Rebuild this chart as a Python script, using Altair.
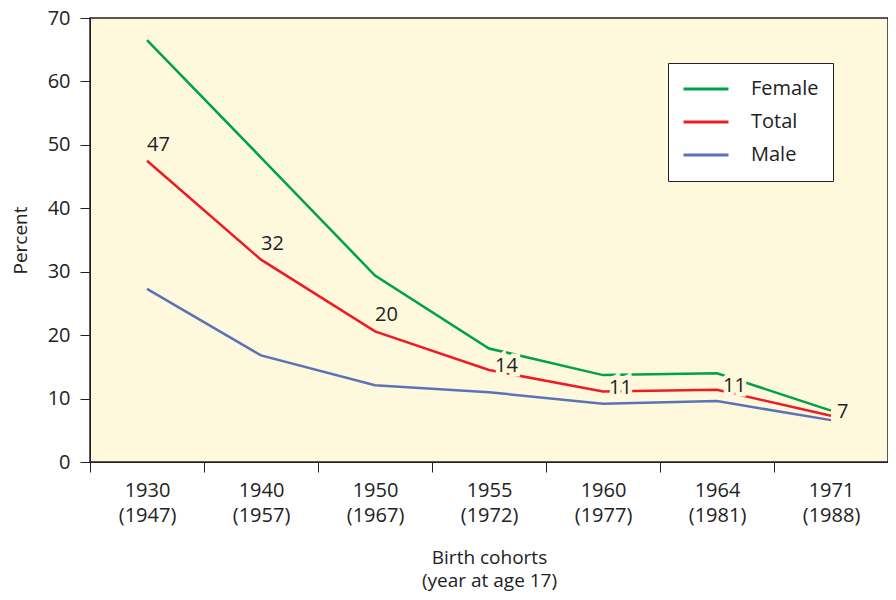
import altair as alt
import pandas as pd

cohort = ["1930", "1940", "1950", "1955", "1960", "1964", "1971"]
age17 = ["1947", "1957", "1967", "1972", "1977", "1981", "1988"]
female = [66.5, 48.0, 29.4, 17.9, 13.7, 14.0, 8.1]
total = [47.5, 31.9, 20.6, 14.5, 11.1, 11.4, 7.3]
male = [27.3, 16.8, 12.1, 11.0, 9.2, 9.6, 6.6]
total_labels = ["47", "32", "20", "14", "11", "11", "7"]
series = ["Female", "Total", "Male"]
colors = ["#00a14b", "#ed1c24", "#5a73b8"]

FONT = "Open Sans"
FS = 20
BG = "#fef9dc"

cats = [f"{c}|({a})" for c, a in zip(cohort, age17)]
rows = []
for name, vals in zip(series, [female, total, male]):
    for c, v in zip(cats, vals):
        rows.append({"cohort": c, "series": name, "value": v})
df = pd.DataFrame(rows)

lab = pd.DataFrame({"cohort": cats, "value": total, "label": total_labels,
                    "grp": ["a", "a", "a", "b", "b", "b", "b"]})

x = alt.X("cohort:N", sort=cats, scale=alt.Scale(paddingInner=0, paddingOuter=0),
          axis=alt.Axis(labelExpr="split(datum.label, '|')", labelAngle=0,
                        tickBand="extent", tickSize=10, tickColor="#222",
                        domainColor="#222", labelFont=FONT, labelFontSize=FS,
                        labelColor="#222", labelPadding=8, labelLineHeight=25,
                        title=["Birth cohorts", "(year at age 17)"],
                        titleFont=FONT, titleFontSize=FS - 1, titleFontWeight="normal",
                        titleColor="#222", titlePadding=23, titleLineHeight=23))
y = alt.Y("value:Q", scale=alt.Scale(domain=[0, 70], nice=False),
          axis=alt.Axis(values=list(range(0, 71, 10)), grid=False, tickSize=10,
                        tickColor="#222", domainColor="#222", labelFont=FONT,
                        labelFontSize=FS, labelColor="#222", labelPadding=10,
                        title="Percent", titleFont=FONT, titleFontSize=FS - 1,
                        titleFontWeight="normal", titleColor="#222", titlePadding=17))

lines = alt.Chart(df).mark_line(strokeWidth=2.5).encode(
    x=x, y=y,
    color=alt.Color("series:N", sort=series,
                    scale=alt.Scale(domain=series, range=colors),
                    legend=alt.Legend(title=None, orient="none", legendX=578, legendY=45,
                                      symbolType="stroke", symbolSize=2025,
                                      symbolStrokeWidth=3, labelFont=FONT,
                                      labelFontSize=FS, labelColor="#222",
                                      labelOffset=21, rowPadding=9, clipHeight=24,
                                      fillColor="white", strokeColor="#222",
                                      padding=14, offset=0)),
    order=alt.Order("cohort:N"),
)

def text_layer(grp, dx, dy, knock):
    kw = dict(align="left", baseline="middle", dx=dx, dy=dy, font=FONT,
              fontSize=FS)
    if knock:
        kw.update(stroke=BG, strokeWidth=9, fill=BG)
    else:
        kw.update(color="#222")
    return alt.Chart(lab).transform_filter(alt.datum.grp == grp).mark_text(**kw).encode(
        x=alt.X("cohort:N", sort=cats), y="value:Q", text="label:N")

layers = [lines]
for knock in (True, False):
    layers.append(text_layer("a", 0, -16, knock))
    layers.append(text_layer("b", 6, -4, knock))

chart = alt.layer(*layers).properties(
    width=798, height=444, background="white",
    autosize=alt.AutoSizeParams(type="none"),
    padding={"left": 82, "top": 10, "right": 0, "bottom": 130},
).configure_view(fill=BG, stroke="#222", strokeWidth=1.5)

chart.save("out.html", embed_options={"renderer": "svg", "actions": False})
